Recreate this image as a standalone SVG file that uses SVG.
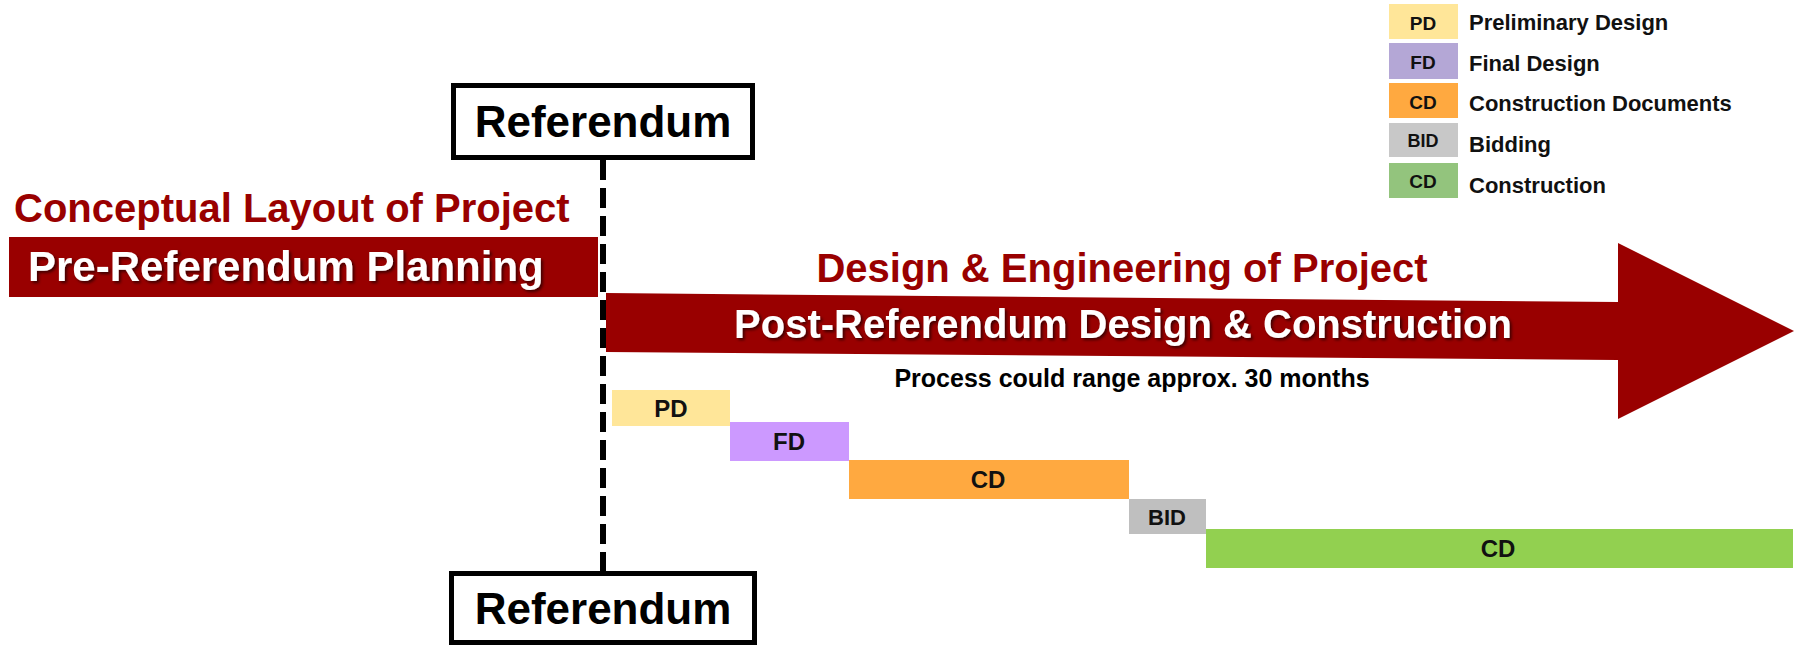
<svg xmlns="http://www.w3.org/2000/svg" width="1803" height="647" viewBox="0 0 1803 647">
<style>
text{font-family:"Liberation Sans",Arial,sans-serif;font-weight:bold}
.title{fill:#990000;font-size:40px}
.white{fill:#ffffff;filter:url(#sh)}
.ref{font-size:44px;fill:#000;text-anchor:middle}
.box{fill:#ffffff;stroke:#000;stroke-width:5}
.gl{font-size:24px;fill:#111;text-anchor:middle}
.ll{font-size:19px;fill:#111;text-anchor:middle}
.lt{font-size:22px;fill:#111}
</style>
<defs>
<filter id="sh" x="-5%" y="-20%" width="110%" height="150%">
<feDropShadow dx="2" dy="2" stdDeviation="1.5" flood-color="#000" flood-opacity="0.6"/>
</filter>
</defs>
<rect width="1803" height="647" fill="#ffffff"/>

<g id="legend">
<rect x="1389" y="4" width="69" height="35" fill="#FFE699"/>
<text class="ll" x="1423" y="30">PD</text>
<text class="lt" x="1469" y="30">Preliminary Design</text>
<rect x="1389" y="43" width="69" height="36" fill="#B4A7D6"/>
<text class="ll" x="1423" y="69">FD</text>
<text class="lt" x="1469" y="71">Final Design</text>
<rect x="1389" y="83" width="69" height="35" fill="#FFA940"/>
<text class="ll" x="1423" y="109">CD</text>
<text class="lt" x="1469" y="111">Construction Documents</text>
<rect x="1389" y="123" width="69" height="34" fill="#C8C8C8"/>
<text class="ll" x="1423" y="147" style="font-size:18px">BID</text>
<text class="lt" x="1469" y="152">Bidding</text>
<rect x="1389" y="163" width="69" height="35" fill="#93C47D"/>
<text class="ll" x="1423" y="188">CD</text>
<text class="lt" x="1469" y="193">Construction</text>
</g>

<g id="connectors">
<line x1="603" y1="160" x2="603" y2="572" stroke="#000" stroke-width="6" stroke-dasharray="20 8"/>
</g>

<g id="referendum-top">
<rect class="box" x="453.5" y="85.5" width="299" height="72"/>
<text class="ref" x="603" y="137">Referendum</text>
</g>

<g id="referendum-bottom">
<rect class="box" x="451.5" y="573.5" width="303" height="69"/>
<text class="ref" x="603" y="624">Referendum</text>
</g>

<g id="pre-referendum">
<text class="title" x="14" y="222">Conceptual Layout of Project</text>
<rect x="9" y="237" width="589" height="60" fill="#990000"/>
<text class="white" x="28" y="281" style="font-size:42px">Pre-Referendum Planning</text>
</g>

<g id="post-referendum">
<text class="title" x="1122" y="282" text-anchor="middle">Design &amp; Engineering of Project</text>
<polygon points="606,293 1618,302 1618,243 1794,331 1618,419 1618,360 606,352" fill="#990000"/>
<text class="white" x="1123" y="338" text-anchor="middle" style="font-size:40px">Post-Referendum Design &amp; Construction</text>
<text x="1132" y="387" text-anchor="middle" style="font-size:25px;fill:#000">Process could range approx. 30 months</text>
</g>

<g id="gantt-pd">
<rect x="612" y="390" width="118" height="36" fill="#FFE699"/>
<text class="gl" x="671" y="417">PD</text>
</g>
<g id="gantt-fd">
<rect x="730" y="422" width="119" height="39" fill="#CC99FF"/>
<text class="gl" x="789" y="450">FD</text>
</g>
<g id="gantt-cd">
<rect x="849" y="460" width="280" height="39" fill="#FFA940"/>
<text class="gl" x="988" y="488">CD</text>
</g>
<g id="gantt-bid">
<rect x="1129" y="499" width="77" height="35" fill="#BFBFBF"/>
<text class="gl" x="1167" y="525" style="font-size:22px">BID</text>
</g>
<g id="gantt-construction">
<rect x="1206" y="529" width="587" height="39" fill="#92D050"/>
<text class="gl" x="1498" y="557">CD</text>
</g>
</svg>
